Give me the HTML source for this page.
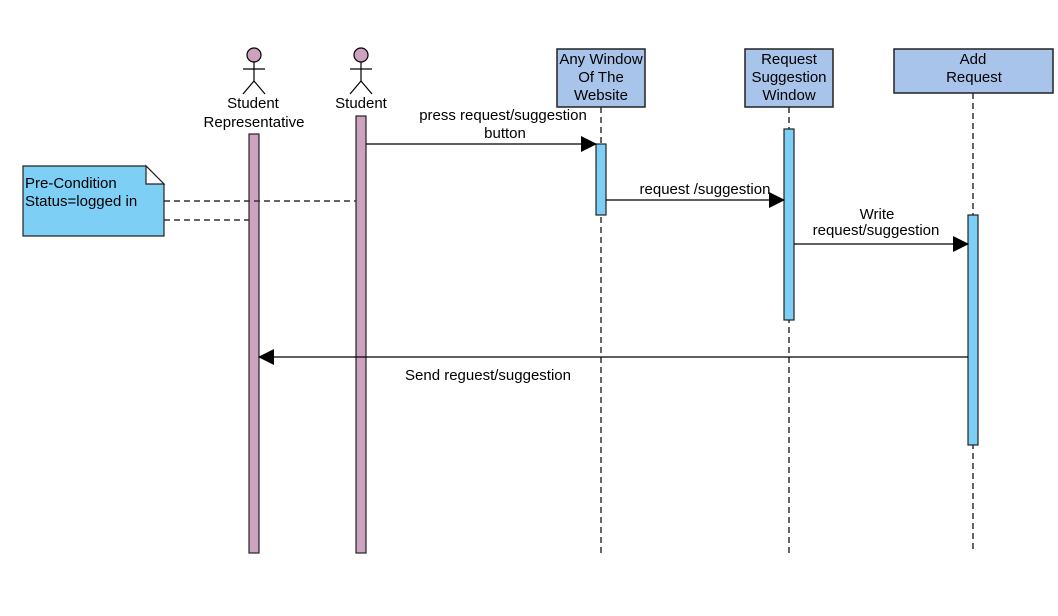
<!DOCTYPE html>
<html><head><meta charset="utf-8"><style>
html,body{margin:0;padding:0;background:#fff}
svg{display:block}
text{font-family:"Liberation Sans",Arial,sans-serif;font-size:15px;fill:#000}
</style></head><body>
<svg width="1058" height="616" viewBox="0 0 1058 616">
<defs>
<marker id="a" markerWidth="16" markerHeight="16" refX="15" refY="8" orient="auto" markerUnits="userSpaceOnUse">
<path d="M0,0 L16,8 L0,16 Z" fill="#000"/></marker>
</defs>
<g stroke="#333" stroke-width="1.5" stroke-dasharray="6,4">
<line x1="601" y1="107" x2="601" y2="553"/>
<line x1="789" y1="107" x2="789" y2="553"/>
<line x1="973" y1="93" x2="973" y2="553"/>
</g>
<g stroke="#000" stroke-width="1.2" fill="none">
<circle cx="254" cy="55" r="7" fill="#cda2be"/>
<line x1="254" y1="62" x2="254" y2="81"/><line x1="243" y1="69" x2="265" y2="69"/>
<line x1="254" y1="81" x2="243" y2="94"/><line x1="254" y1="81" x2="265" y2="94"/>
<circle cx="361" cy="55" r="7" fill="#cda2be"/>
<line x1="361" y1="62" x2="361" y2="81"/><line x1="350" y1="69" x2="372" y2="69"/>
<line x1="361" y1="81" x2="350" y2="94"/><line x1="361" y1="81" x2="372" y2="94"/>
</g>
<text x="253" y="108" text-anchor="middle">Student</text>
<text x="254" y="127" text-anchor="middle">Representative</text>
<text x="361" y="108" text-anchor="middle">Student</text>
<g fill="#a9c4eb" stroke="#222" stroke-width="1.5">
<rect x="557" y="49" width="88" height="58"/>
<rect x="745" y="49" width="88" height="58"/>
<rect x="894" y="49" width="159" height="44"/>
</g>
<text x="601" y="64" text-anchor="middle">Any Window</text>
<text x="601" y="82" text-anchor="middle">Of The</text>
<text x="601" y="100" text-anchor="middle">Website</text>
<text x="789" y="64" text-anchor="middle">Request</text>
<text x="789" y="82" text-anchor="middle">Suggestion</text>
<text x="789" y="100" text-anchor="middle">Window</text>
<text x="973" y="64" text-anchor="middle">Add</text>
<text x="974" y="82" text-anchor="middle">Request</text>
<g stroke="#222" stroke-width="1.2">
<rect x="249" y="134" width="10" height="419" fill="#cda2be"/>
<rect x="356" y="116" width="10" height="437" fill="#cda2be"/>
<rect x="596" y="144" width="10" height="71" fill="#7dcff5"/>
<rect x="784" y="129" width="10" height="191" fill="#7dcff5"/>
<rect x="968" y="215" width="10" height="230" fill="#7dcff5"/>
</g>
<g stroke="#333" stroke-width="1.5" stroke-dasharray="6,4">
<line x1="164" y1="201" x2="356" y2="201"/>
<line x1="164" y1="220" x2="249" y2="220"/>
</g>
<path d="M23,166 L146,166 L164,184 L164,236 L23,236 Z" fill="#7dcff5" stroke="#222" stroke-width="1.2"/>
<path d="M146,166 L146,184 L164,184 Z" fill="#fff" stroke="#222" stroke-width="1.2"/>
<text x="25" y="188">Pre-Condition</text>
<text x="25" y="206">Status=logged in</text>
<g stroke="#000" stroke-width="1.2">
<line x1="366" y1="144" x2="596" y2="144" marker-end="url(#a)"/>
<line x1="606" y1="200" x2="784" y2="200" marker-end="url(#a)"/>
<line x1="794" y1="244" x2="968" y2="244" marker-end="url(#a)"/>
<line x1="968" y1="357" x2="259" y2="357" marker-end="url(#a)"/>
</g>
<text x="503" y="120" text-anchor="middle">press request/suggestion</text>
<text x="505" y="138" text-anchor="middle">button</text>
<text x="705" y="194" text-anchor="middle">request /suggestion</text>
<text x="877" y="219" text-anchor="middle">Write</text>
<text x="876" y="235" text-anchor="middle">request/suggestion</text>
<text x="488" y="380" text-anchor="middle">Send reguest/suggestion</text>
</svg>
</body></html>
